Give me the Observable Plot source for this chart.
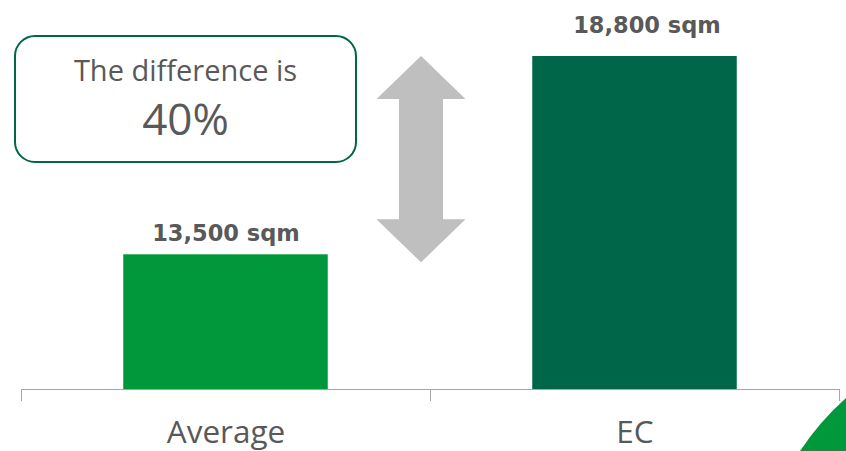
<!DOCTYPE html>
<html>
<head>
<meta charset="utf-8">
<script src="https://cdn.jsdelivr.net/npm/d3@7"></script>
<script src="https://cdn.jsdelivr.net/npm/@observablehq/plot@0.6"></script>
<style>
  html, body { margin: 0; padding: 0; background: #ffffff; }
  #wrap { position: relative; width: 846px; height: 451px; overflow: hidden; }
  #wrap svg.overlay { position: absolute; left: 0; top: 0; pointer-events: none; }
</style>
</head>
<body>
<div id="wrap"></div>
<script>
// ---- data ----
const categories = ["Average", "EC"];
const values = [13500, 18800];
const valueLabels = ["13,500 sqm", "18,800 sqm"];
const barColors = ["#00983a", "#00664a"];
const yBase = 9900; // value at the chart baseline (axis does not start at zero)
const noteLine1 = "The difference is";
const noteLine2 = "40%";

const data = categories.map((c, i) => ({ c, i, v: values[i], label: valueLabels[i] }));
const gray = "#595959";
const regularFont = "'Open Sans', 'Noto Sans', sans-serif";
const boldFont = "'DejaVu Sans', Verdana, sans-serif";

// double-headed arrow between the two bar tops, drawn through the scales
function arrowMark(index, scales) {
  const svgNS = "http://www.w3.org/2000/svg";
  const g = document.createElementNS(svgNS, "g");
  const cx = scales.x(1) - 9;
  const top = scales.y(values[1]);
  const bot = scales.y(values[0]) + 8;
  const hw = 44.5, sw = 22, hh = 43;
  const d = [
    [cx, top], [cx + hw, top + hh], [cx + sw, top + hh], [cx + sw, bot - hh],
    [cx + hw, bot - hh], [cx, bot], [cx - hw, bot - hh], [cx - sw, bot - hh],
    [cx - sw, top + hh], [cx - hw, top + hh]
  ].map((p, k) => (k ? "L" : "M") + p[0] + "," + p[1]).join("") + "Z";
  const path = document.createElementNS(svgNS, "path");
  path.setAttribute("d", d);
  path.setAttribute("fill", "#bfbfbf");
  g.appendChild(path);
  return g;
}

const chart = Plot.plot({
  width: 846,
  height: 451,
  marginLeft: 21,
  marginRight: 7,
  marginTop: 56,
  marginBottom: 62,
  style: { background: "transparent", fontFamily: regularFont, overflow: "visible" },
  x: { type: "linear", domain: [0, categories.length], axis: null },
  y: { domain: [yBase, d3.max(values)], axis: null },
  color: { domain: categories, range: barColors },
  marks: [
    Plot.rectY(data, { x1: d => d.i + 0.25, x2: d => d.i + 0.75, y1: yBase, y2: "v", fill: "c" }),
    Plot.ruleY([yBase], { stroke: "#a6a6a6", strokeWidth: 1 }),
    Plot.ruleX(d3.range(categories.length + 1), { x: d => d, y1: yBase, y2: yBase, insetBottom: -12, stroke: "#a6a6a6" }),
    Plot.text(data, { x: d => d.i + 0.5, y: yBase, text: "c", dy: 53, lineAnchor: "bottom", fontSize: 31.5, fill: gray, fontFamily: regularFont }),
    Plot.text(data.filter(d => d.i === 0), { x: d => d.i + 0.5, y: "v", text: "label", dy: -14, lineAnchor: "bottom", fontSize: 22.5, fontWeight: "bold", fill: gray, fontFamily: boldFont }),
    Plot.text(data.filter(d => d.i === 1), { x: d => d.i + 0.5, y: "v", text: "label", dx: 12, dy: -24, lineAnchor: "bottom", fontSize: 22.5, fontWeight: "bold", fill: gray, fontFamily: boldFont }),
    arrowMark
  ]
});

const wrap = document.getElementById("wrap");
wrap.appendChild(chart);

// annotation box and corner decoration overlay
const ov = d3.select(wrap).append("svg").attr("class", "overlay").attr("width", 846).attr("height", 451);
ov.append("rect").attr("x", 15).attr("y", 36).attr("width", 341).attr("height", 126).attr("rx", 20)
  .attr("fill", "#ffffff").attr("stroke", "#00664a").attr("stroke-width", 2);
ov.append("text").attr("x", 185.5).attr("y", 81).attr("text-anchor", "middle")
  .attr("font-family", regularFont).attr("font-size", 29).attr("fill", gray).text(noteLine1);
ov.append("text").attr("x", 185.5).attr("y", 135).attr("text-anchor", "middle")
  .attr("font-family", regularFont).attr("font-size", 44).attr("fill", gray).text(noteLine2);
ov.append("path").attr("d", "M846,398 Q820,421 800,451 L846,451 Z").attr("fill", "#00983a");
</script>
</body>
</html>
